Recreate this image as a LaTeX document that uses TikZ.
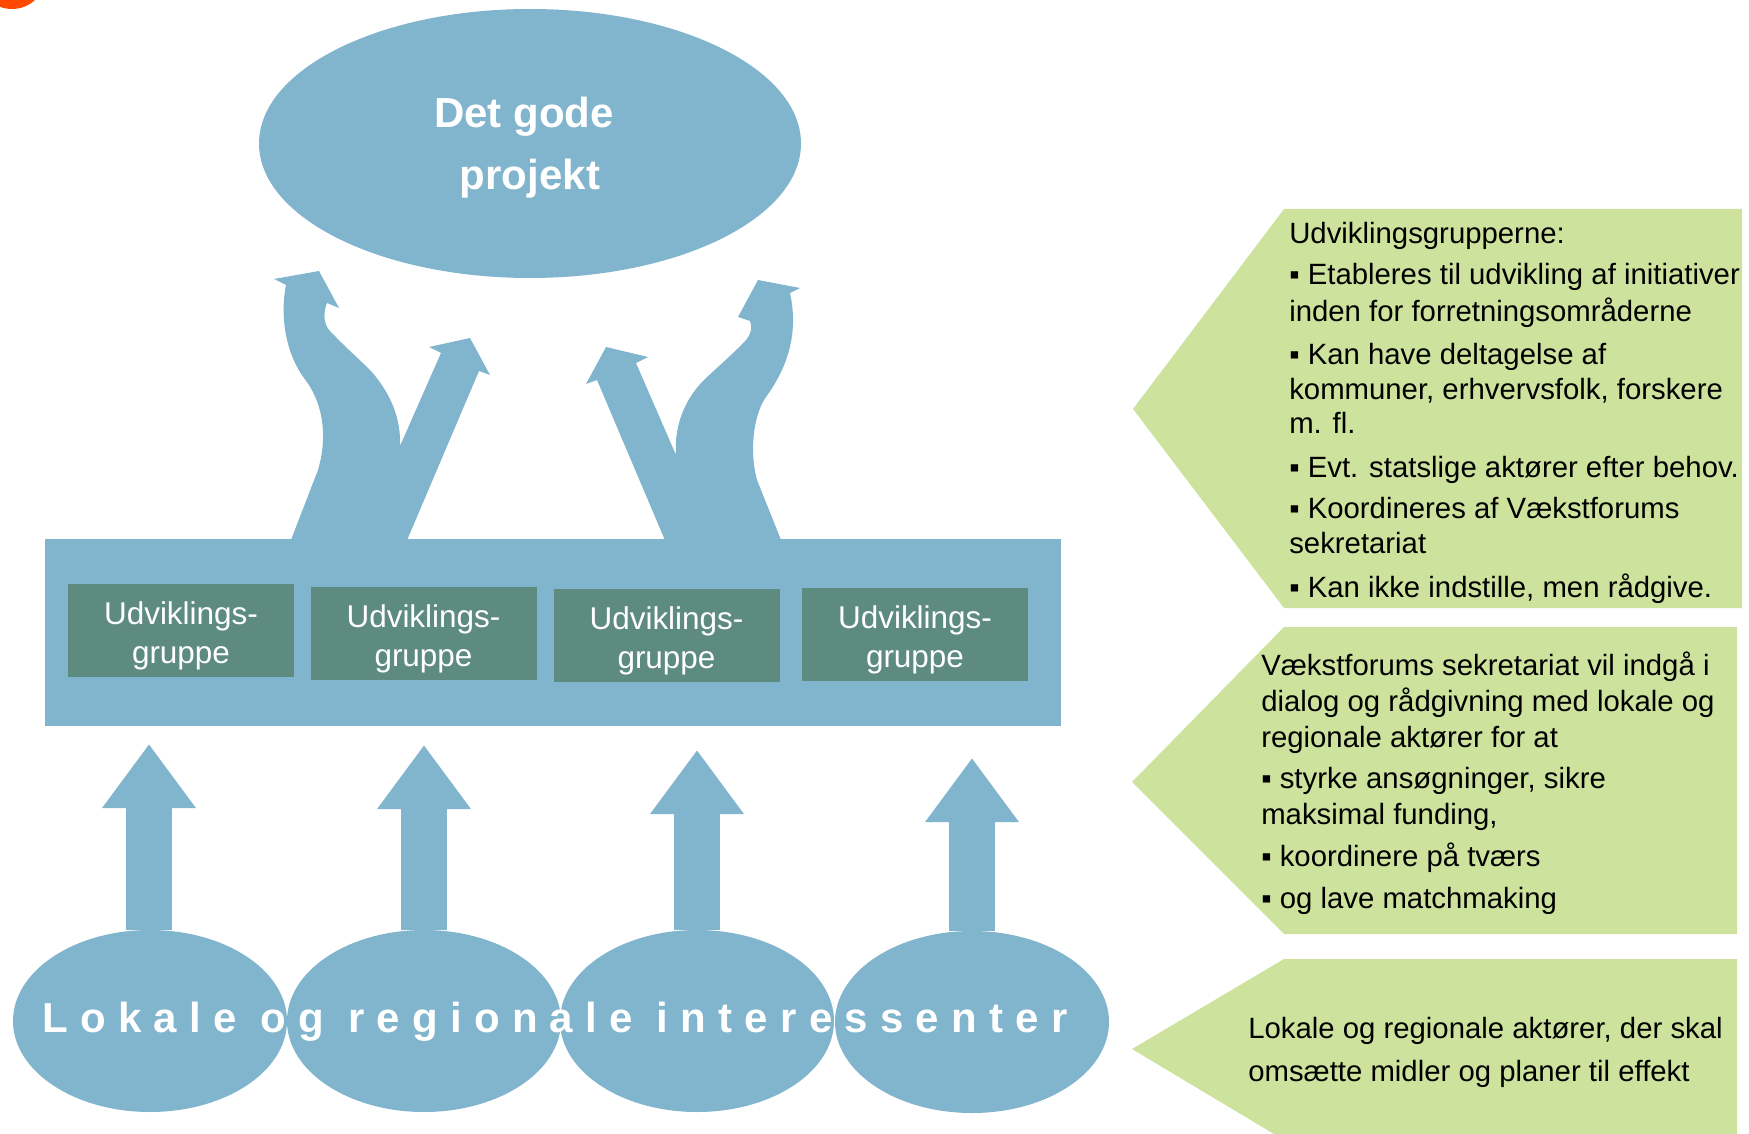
\documentclass[tikz,border=0pt]{standalone}
\usepackage{fontspec}
\setmainfont{Liberation Sans}
\usetikzlibrary{arrows.meta,shapes.geometric}
\definecolor{blu}{RGB}{129,180,205}
\definecolor{dbox}{RGB}{93,139,128}
\definecolor{grn}{RGB}{205,226,156}
\definecolor{org}{RGB}{255,72,0}
\begin{document}
\begin{tikzpicture}[x=0.75pt,y=-0.75pt,
  ell/.style={ellipse, fill=blu, inner sep=0pt},
  ubox/.style={rectangle, fill=dbox, minimum width=169.5pt, minimum height=69.75pt, inner sep=0pt},
  utext/.style={inner sep=0pt, text=white, align=center, font=\fontsize{23.6}{29}\selectfont},
  uparrow/.style={draw=blu, line width=35pt, -{Triangle[width=67pt,length=48pt]}},
  txt/.style={anchor=base west, inner sep=0pt, font=\fontsize{22}{26}\selectfont},
  panel/.style={fill=grn},
]
\useasboundingbox (0,0) rectangle (1749,1134);
\fill[org] (12,-25) circle[radius=34];

% top ellipse
\node[ell, minimum width=406.5pt, minimum height=201.75pt] (top) at (530,143.5) {};
\node[inner sep=0pt, text=white, align=center, font=\fontsize{31.5}{46.5}\bfseries\selectfont]
  (toptext) at (530,148) {Det gode\hspace*{9pt}\\projekt};

% branching arrows
\fill[blu] (289,545) -- (318,470) .. controls (327,440) and (325,405) .. (304,378)
  .. controls (285,352) and (280,315) .. (286,285) -- (274,279) -- (319,271) -- (339,308) -- (327,303)
  .. controls (322,315) and (325,326) .. (330,331) .. controls (345,347) and (358,358) .. (371,371)
  .. controls (392,395) and (401,420) .. (400,446) -- (441,353) -- (429,347) -- (470,338) -- (490,375)
  -- (479,371) -- (405,545) -- cycle;
\fill[blu] (667,545) -- (597,380) -- (586,384) -- (606,347) -- (648,357) -- (636,363) -- (676,455)
  .. controls (674,425) and (685,398) .. (706,378) .. controls (720,365) and (735,352) .. (746,340)
  .. controls (752,333) and (752,326) .. (750,321) -- (738,317) -- (758,280) -- (800,288) -- (790,293)
  .. controls (797,325) and (793,360) .. (766,397) .. controls (752,417) and (750,455) .. (757,480)
  -- (783,545) -- cycle;

% platform
\node[rectangle, fill=blu, minimum width=762pt, minimum height=140.25pt, inner sep=0pt] (plat) at (553,632.5) {};
\node[ubox] (u1) at (181,630.5) {};
\node[ubox] (u2) at (423.5,633) {};
\node[ubox] (u3) at (666.5,635) {};
\node[ubox] (u4) at (915,634) {};
\node[utext] (u1t) at ([yshift=-4.2pt]u1.center) {Udviklings-\\gruppe};
\node[utext] (u2t) at ([yshift=-4.2pt]u2.center) {Udviklings-\\gruppe};
\node[utext] (u3t) at ([yshift=-4.2pt]u3.center) {Udviklings-\\gruppe};
\node[utext] (u4t) at ([yshift=-4.2pt]u4.center) {Udviklings-\\gruppe};

% bottom ellipses
\node[ell, minimum width=205.5pt, minimum height=136.5pt] (e1) at (150,1021) {};
\node[ell, minimum width=205.5pt, minimum height=136.5pt] (e2) at (424,1021) {};
\node[ell, minimum width=205.5pt, minimum height=136.5pt] (e3) at (697,1021) {};
\node[ell, minimum width=205.5pt, minimum height=136.5pt] (e4) at (972,1022) {};
\coordinate (t1) at (149,744);
\coordinate (t2) at (424,745);
\coordinate (t3) at (697,750);
\coordinate (t4) at (972,758);
\draw[uparrow] (e1.north -| t1) -- (t1);
\draw[uparrow] (e2.north) -- (t2);
\draw[uparrow] (e3.north) -- (t3);
\draw[uparrow] (e4.north) -- (t4);
\node[anchor=base, inner sep=0pt, text=white, font=\fontsize{31.5}{36}\bfseries\selectfont\addfontfeature{LetterSpace=29.2}]
  (lbl) at (555,1032) {Lokale og regionale interessenter};

% green panels
\fill[panel] (1284,209) -- (1742,209) -- (1742,608) -- (1284,608) -- (1133,409) -- cycle;
\fill[panel] (1284,627) -- (1737,627) -- (1737,934) -- (1284,934) -- (1132,782) -- cycle;
\fill[panel] (1284,959) -- (1737,959) -- (1737,1140) -- (1284,1140) -- (1132,1049) -- cycle;

\node[txt] (a1) at (1289,244) {Udviklingsgrupperne:};
\node[txt] (a2) at (1289,285) {▪ Etableres til udvikling af initiativer};
\node[txt] (a3) at (1289,321) {inden for forretningsområderne};
\node[txt] (a4) at (1289,364) {▪ Kan have deltagelse af};
\node[txt] (a5) at (1289,399) {kommuner, erhvervsfolk, forskere};
\node[txt] (a6) at (1289,433) {m. fl.};
\node[txt] (a7) at (1289,477) {▪ Evt. statslige aktører efter behov.};
\node[txt] (a8) at (1289,518) {▪ Koordineres af Vækstforums};
\node[txt] (a9) at (1289,553) {sekretariat};
\node[txt] (a10) at (1289,597) {▪ Kan ikke indstille, men rådgive.};

\node[txt] (b1) at (1261,675) {Vækstforums sekretariat vil indgå i};
\node[txt] (b2) at (1261,711) {dialog og rådgivning med lokale og};
\node[txt] (b3) at (1261,747) {regionale aktører for at};
\node[txt] (b4) at (1261,788) {▪ styrke ansøgninger, sikre};
\node[txt] (b5) at (1261,824) {maksimal funding,};
\node[txt] (b6) at (1261,866) {▪ koordinere på tværs};
\node[txt] (b7) at (1261,908) {▪ og lave matchmaking};

\node[txt] (c1) at (1248,1038) {Lokale og regionale aktører, der skal};
\node[txt] (c2) at (1248,1081) {omsætte midler og planer til effekt};
\end{tikzpicture}
\end{document}
